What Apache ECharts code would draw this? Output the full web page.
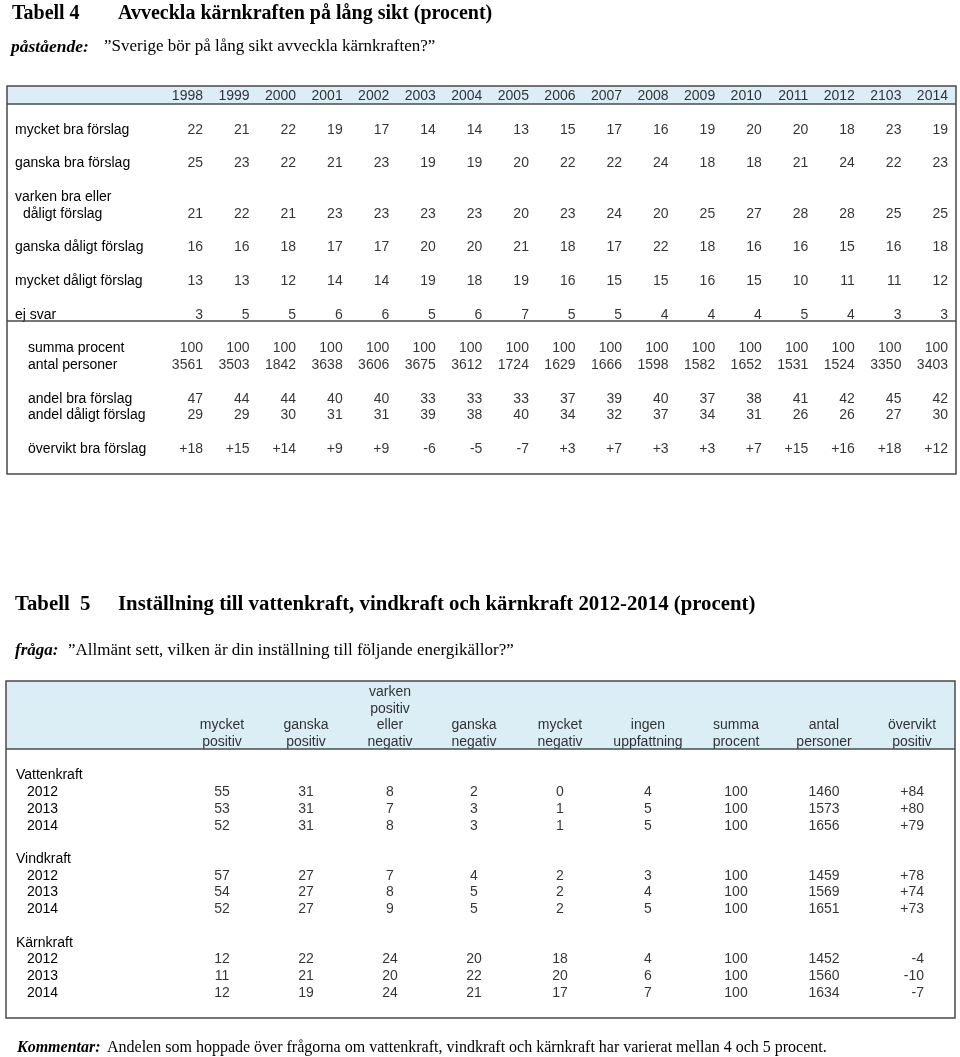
<!DOCTYPE html>
<html><head><meta charset="utf-8">
<script src="https://cdn.jsdelivr.net/npm/echarts@6/dist/echarts.min.js"></script>
<style>html,body{margin:0;padding:0;background:#fff}#c{width:960px;height:1057px}</style>
</head><body><div id="c"></div>
<script>
// ---------- Tabell 4 data ----------
const years4 = ['1998','1999','2000','2001','2002','2003','2004','2005','2006','2007','2008','2009','2010','2011','2012','2103','2014'];
const mycketBra    = [22,21,22,19,17,14,14,13,15,17,16,19,20,20,18,23,19];
const ganskaBra    = [25,23,22,21,23,19,19,20,22,22,24,18,18,21,24,22,23];
const varkenBraDal = [21,22,21,23,23,23,23,20,23,24,20,25,27,28,28,25,25];
const ganskaDalig  = [16,16,18,17,17,20,20,21,18,17,22,18,16,16,15,16,18];
const mycketDalig  = [13,13,12,14,14,19,18,19,16,15,15,16,15,10,11,11,12];
const ejSvar       = [3,5,5,6,6,5,6,7,5,5,4,4,4,5,4,3,3];
const summa4       = [100,100,100,100,100,100,100,100,100,100,100,100,100,100,100,100,100];
const antal4       = [3561,3503,1842,3638,3606,3675,3612,1724,1629,1666,1598,1582,1652,1531,1524,3350,3403];
const andelBra     = [47,44,44,40,40,33,33,33,37,39,40,37,38,41,42,45,42];
const andelDalig   = [29,29,30,31,31,39,38,40,34,32,37,34,31,26,26,27,30];
const overvikt4    = [18,15,14,9,9,-6,-5,-7,3,7,3,3,7,15,16,18,12];
const rowLabels4 = ['mycket bra förslag','ganska bra förslag','varken bra eller\ndåligt förslag','ganska dåligt förslag','mycket dåligt förslag','ej svar','summa procent','antal personer','andel bra förslag','andel dåligt förslag','övervikt bra förslag'];
const values4 = [mycketBra, ganskaBra, varkenBraDal, ganskaDalig, mycketDalig, ejSvar, summa4, antal4, andelBra, andelDalig, overvikt4];

// ---------- Tabell 5 data ----------
const headers5 = [['mycket','positiv'],['ganska','positiv'],['varken','positiv','eller','negativ'],['ganska','negativ'],['mycket','negativ'],['ingen','uppfattning'],['summa','procent'],['antal','personer'],['övervikt','positiv']];
const groups5 = ['Vattenkraft','Vindkraft','Kärnkraft'];
const years5 = ['2012','2013','2014'];
const vattenkraft = [[55,31,8,2,0,4,100,1460,84],[53,31,7,3,1,5,100,1573,80],[52,31,8,3,1,5,100,1656,79]];
const vindkraft   = [[57,27,7,4,2,3,100,1459,78],[54,27,8,5,2,4,100,1569,74],[52,27,9,5,2,5,100,1651,73]];
const karnkraft   = [[12,22,24,20,18,4,100,1452,-4],[11,21,20,22,20,6,100,1560,-10],[12,19,24,21,17,7,100,1634,-7]];
const data5 = [vattenkraft, vindkraft, karnkraft];

// ---------- helpers ----------
const SANS = "'Liberation Sans', Arial, sans-serif";
const SERIF = "'Liberation Serif', 'Times New Roman', serif";
const FS = 14;
const fmt = (v, signed) => signed && v > 0 ? '+' + v : String(v);

// Table 4 line slots
const gaps4 = [1,1,1,1,1,1,1,0,1,0,1];
const indent4 = ['a','a','a','a','a','a','c','c','c','c','c'];
const slots4 = [{text:'', st:'a'}];
const cells4 = [];
years4.forEach((y,i)=>cells4.push({value:[i,0], name:y}));
rowLabels4.forEach((lab, r) => {
  for (let g=0; g<gaps4[r]; g++) slots4.push({text:'', st:'a'});
  lab.split('\n').forEach((ln,j)=>slots4.push({text:ln, st: j>0 ? 'b' : indent4[r]}));
  const slot = slots4.length - 1;
  values4[r].forEach((v,i)=>cells4.push({value:[i,slot], name: fmt(v, r === values4.length-1)}));
});

// Table 5 line slots
const slots5 = [];
for (let k=0;k<4;k++) slots5.push({text:'', st:'g'});
const cells5L = [], cells5R = [];
const SPLIT = 4;
const LAST = headers5.length - 1;
const push5 = (c, slot, txt, body) => {
  const item = {value:[c < SPLIT ? c : c - SPLIT, slot], name:txt};
  if (body && c === LAST) item.label = {align:'right', offset:[12,0]};
  (c < SPLIT ? cells5L : cells5R).push(item);
};
headers5.forEach((h,c)=>h.forEach((ln,j)=>push5(c, 4 - h.length + j, ln, false)));
groups5.forEach((g,gi)=>{
  slots5.push({text:'', st:'g'});
  slots5.push({text:g, st:'g'});
  years5.forEach((y,yi)=>{
    slots5.push({text:y, st:'y'});
    const slot = slots5.length - 1;
    data5[gi][yi].forEach((v,c)=>push5(c, slot, fmt(v, c === LAST), true));
  });
});

const hidden = {axisLine:{show:false}, axisTick:{show:false}, splitLine:{show:false}};
const labStyle = {fontFamily:SANS, fontSize:FS, color:'#000'};
function yAxisFor(slots, gridIndex, margin, rich, showLabels) {
  return Object.assign({type:'category', gridIndex, inverse:true, boundaryGap:true,
    data: slots.map((_,i)=>'s'+i),
    axisLabel: {show:showLabels, interval:0, align:'left', margin,
      formatter: (v, idx) => slots[idx] && slots[idx].text ? '{' + slots[idx].st + '|' + slots[idx].text + '}' : '',
      rich}}, hidden);
}
function xAxisFor(n, gridIndex) {
  return Object.assign({type:'category', gridIndex, boundaryGap:false, data: Array.from({length:n},(_,i)=>'c'+i), axisLabel:{show:false}}, hidden);
}
function cellSeries(data, gi, align) {
  return {type:'scatter', xAxisIndex:gi, yAxisIndex:gi, data, symbolSize:1, silent:true,
    itemStyle:{color:'rgba(0,0,0,0)'},
    label:{show:true, position:'inside', align, verticalAlign:'middle', formatter: p=>p.name,
      color:'#000', fontFamily:SANS, fontSize:FS}};
}

const rich4 = {
  a: Object.assign({}, labStyle),
  b: Object.assign({padding:[0,0,0,8]}, labStyle),
  c: Object.assign({padding:[0,0,0,13]}, labStyle)
};
const rich5 = {
  g: Object.assign({}, labStyle),
  y: Object.assign({padding:[0,0,0,11]}, labStyle)
};

const SL4 = 16.8, SL5 = 16.72;
const BORDER = '#4a4a4a', BAND = '#dbedf5';

const option = {
  animation:false,
  backgroundColor:'#fff',
  grid: [
    {left:203, width:745, top:96.4 - SL4/2, height: slots4.length*SL4, outerBoundsMode:'none'},
    {left:222, width:252, top:692 - SL5/2, height: slots5.length*SL5, outerBoundsMode:'none'},
    {left:560, width:352, top:692 - SL5/2, height: slots5.length*SL5, outerBoundsMode:'none'}
  ],
  xAxis: [xAxisFor(years4.length,0), xAxisFor(SPLIT,1), xAxisFor(headers5.length-SPLIT,2)],
  yAxis: [yAxisFor(slots4,0,188,rich4,true), yAxisFor(slots5,1,206,rich5,true), yAxisFor(slots5,2,0,rich5,false)],
  series: [cellSeries(cells4,0,'right'), cellSeries(cells5L,1,'center'), cellSeries(cells5R,2,'center')],
  graphic: {elements: [
    // Tabell 4 texts
    {type:'text', x:12, y:14, z:5, style:{text:'Tabell 4', font:'bold 20px ' + SERIF, fill:'#000', verticalAlign:'middle'}},
    {type:'text', x:118, y:14, z:5, style:{text:'Avveckla kärnkraften på lång sikt (procent)', font:'bold 20px ' + SERIF, fill:'#000', verticalAlign:'middle'}},
    {type:'text', x:11, y:47, z:5, style:{text:'påstående:', font:'italic bold 17.5px ' + SERIF, fill:'#000', verticalAlign:'middle'}},
    {type:'text', x:104, y:47, z:5, style:{text:'”Sverige bör på lång sikt avveckla kärnkraften?”', font:'17px ' + SERIF, fill:'#000', verticalAlign:'middle'}},
    // Tabell 4 box
    {type:'rect', z:0, shape:{x:7, y:86, width:949, height:18}, style:{fill:BAND}},
    {type:'rect', z:10, shape:{x:7, y:86, width:949, height:388}, style:{fill:'none', stroke:BORDER, lineWidth:1.5}},
    {type:'line', z:10, shape:{x1:7, y1:104, x2:956, y2:104}, style:{stroke:BORDER, lineWidth:1.5}},
    {type:'line', z:10, shape:{x1:7, y1:321, x2:956, y2:321}, style:{stroke:BORDER, lineWidth:1.5}},
    // Tabell 5 texts
    {type:'text', x:15, y:605, z:5, style:{text:'Tabell  5', font:'bold 20.8px ' + SERIF, fill:'#000', verticalAlign:'middle'}},
    {type:'text', x:118, y:605, z:5, style:{text:'Inställning till vattenkraft, vindkraft och kärnkraft 2012-2014 (procent)', font:'bold 20.8px ' + SERIF, fill:'#000', verticalAlign:'middle'}},
    {type:'text', x:15, y:651, z:5, style:{text:'fråga:', font:'italic bold 17px ' + SERIF, fill:'#000', verticalAlign:'middle'}},
    {type:'text', x:68, y:651, z:5, style:{text:'”Allmänt sett, vilken är din inställning till följande energikällor?”', font:'17px ' + SERIF, fill:'#000', verticalAlign:'middle'}},
    // Tabell 5 box
    {type:'rect', z:0, shape:{x:6, y:681, width:949, height:68}, style:{fill:BAND}},
    {type:'rect', z:10, shape:{x:6, y:681, width:949, height:337}, style:{fill:'none', stroke:BORDER, lineWidth:1.5}},
    {type:'line', z:10, shape:{x1:6, y1:749, x2:955, y2:749}, style:{stroke:BORDER, lineWidth:1.5}},
    // Kommentar
    {type:'text', x:17, y:1048, z:5, style:{text:'Kommentar:', font:'italic bold 16px ' + SERIF, fill:'#000', verticalAlign:'middle'}},
    {type:'text', x:107, y:1048, z:5, style:{text:'Andelen som hoppade över frågorna om vattenkraft, vindkraft och kärnkraft har varierat mellan 4 och 5 procent.', font:'16px ' + SERIF, fill:'#000', verticalAlign:'middle'}}
  ]}
};
const chart = echarts.init(document.getElementById('c'), null, {renderer:'canvas'});
chart.setOption(option);
</script></body></html>
